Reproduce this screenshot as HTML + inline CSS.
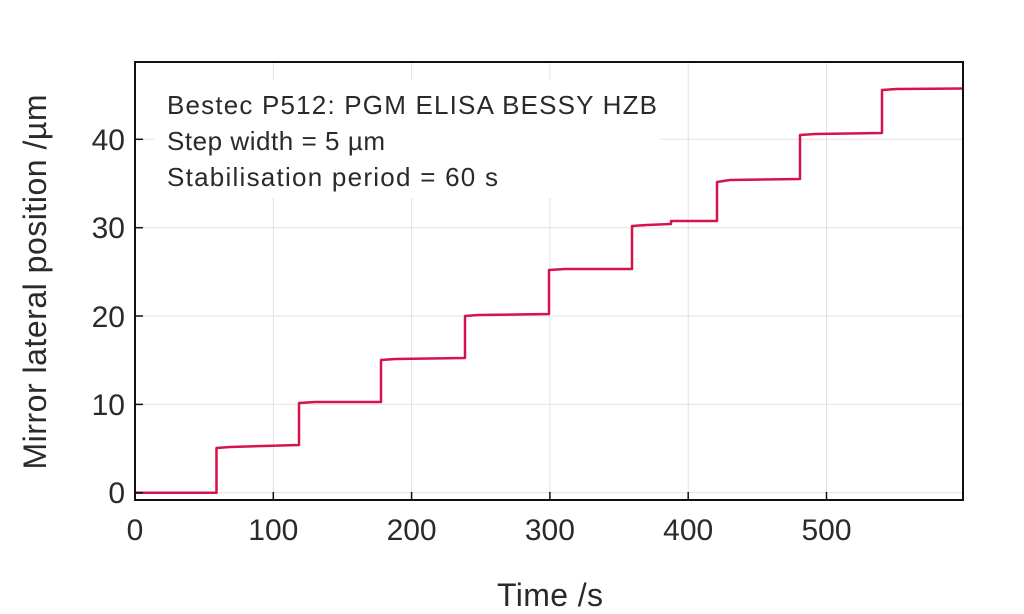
<!DOCTYPE html>
<html><head><style>body{margin:0;background:#fff}svg{display:block}</style></head><body>
<svg width="1024" height="614" xmlns="http://www.w3.org/2000/svg" font-family="'Liberation Sans',sans-serif" fill="#2a2a2a">
<rect width="1024" height="614" fill="#fff"/>
<g stroke="#e2e2e2" stroke-width="1">
<line x1="273.3" y1="62" x2="273.3" y2="500"/><line x1="411.6" y1="62" x2="411.6" y2="500"/><line x1="549.9" y1="62" x2="549.9" y2="500"/><line x1="688.2" y1="62" x2="688.2" y2="500"/><line x1="826.5" y1="62" x2="826.5" y2="500"/>
<line x1="135" y1="404.4" x2="963" y2="404.4"/><line x1="135" y1="316" x2="963" y2="316"/><line x1="135" y1="227.7" x2="963" y2="227.7"/><line x1="135" y1="139.3" x2="963" y2="139.3"/><line x1="135" y1="492.7" x2="963" y2="492.7"/>
</g>
<rect x="155" y="80" width="505" height="118" fill="#fff"/>
<polyline fill="none" stroke="#d4144a" stroke-width="2.5" stroke-linejoin="round" points="135,492.7 216.5,492.7 216.5,448 230,447 299,445 299,403 315,402 381,402 381,360 395,359 465,358 465,316 478,315 549,314 549,270 565,269 632,269 632,226 647,225 671,224 671,221 700,221 717,221 717,182 730,180 800,179 800,135 815,134 882,133 882,90 897,89 963,88.5"/>
<rect x="135" y="62" width="828" height="438" fill="none" stroke="#111" stroke-width="2"/>
<g stroke="#111" stroke-width="1.5">
<line x1="273.3" y1="500" x2="273.3" y2="492"/><line x1="411.6" y1="500" x2="411.6" y2="492"/><line x1="549.9" y1="500" x2="549.9" y2="492"/><line x1="688.2" y1="500" x2="688.2" y2="492"/><line x1="826.5" y1="500" x2="826.5" y2="492"/>
<line x1="135" y1="404.4" x2="143" y2="404.4"/><line x1="135" y1="316" x2="143" y2="316"/><line x1="135" y1="227.7" x2="143" y2="227.7"/><line x1="135" y1="139.3" x2="143" y2="139.3"/><line x1="135" y1="492.7" x2="143" y2="492.7"/>
</g>
<g font-size="30" text-anchor="middle">
<text x="135" y="540">0</text><text x="273.3" y="540">100</text><text x="411.6" y="540">200</text><text x="549.9" y="540">300</text><text x="688.2" y="540">400</text><text x="826.5" y="540">500</text>
</g>
<g font-size="30" text-anchor="end">
<text x="125" y="503">0</text><text x="125" y="415">10</text><text x="125" y="327">20</text><text x="125" y="238">30</text><text x="125" y="150">40</text>
</g>
<text x="550" y="606" font-size="32" text-anchor="middle" textLength="106">Time /s</text>
<text transform="translate(46,282) rotate(-90)" font-size="32" text-anchor="middle" textLength="375">Mirror lateral position /µm</text>
<g font-size="26">
<text x="167" y="114" textLength="490">Bestec P512: PGM ELISA BESSY HZB</text>
<text x="167" y="150" textLength="218">Step width = 5 µm</text>
<text x="167" y="186" textLength="331">Stabilisation period = 60 s</text>
</g>
</svg>
</body></html>
